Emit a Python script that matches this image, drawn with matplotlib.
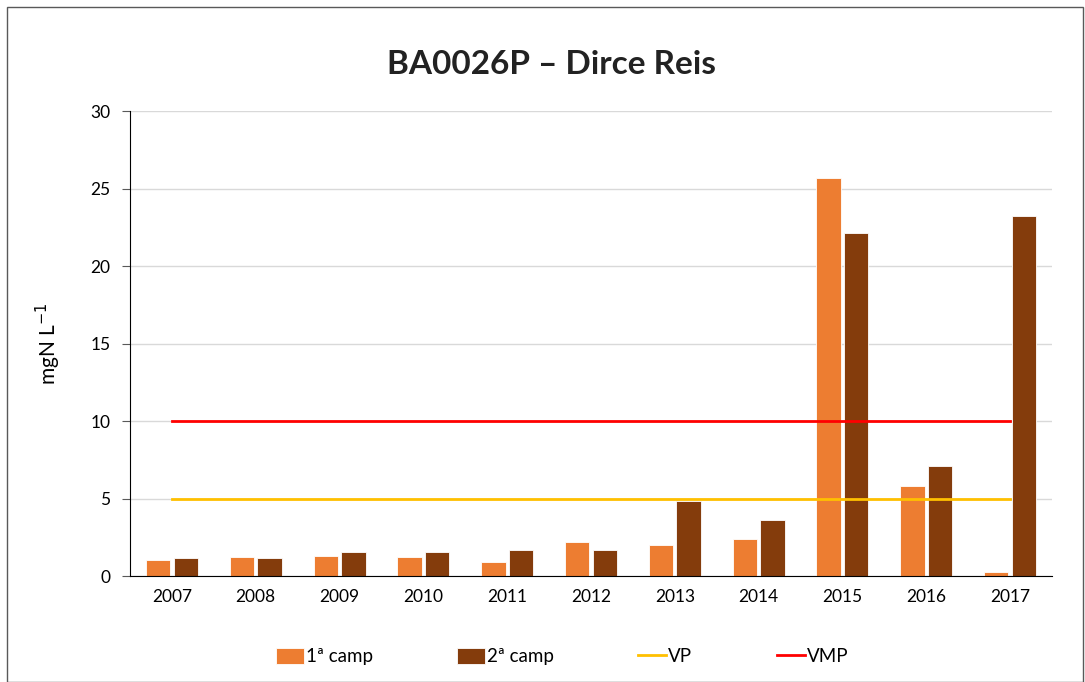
import numpy as np
import matplotlib
matplotlib.use('Agg')
import matplotlib.pyplot as plt
from matplotlib.patches import Rectangle

plt.rcParams['font.family'] = ['Lato', 'DejaVu Sans']

years = ['2007', '2008', '2009', '2010', '2011', '2012', '2013', '2014', '2015', '2016', '2017']
camp1 = [1.04, 1.21, 1.32, 1.23, 0.91, 2.21, 2.01, 2.36, 25.7, 5.82, 0.26]
camp2 = [1.17, 1.19, 1.56, 1.54, 1.69, 1.69, 4.85, 3.64, 22.15, 7.13, 23.2]
vp = [5] * len(years)
vmp = [10] * len(years)

orange = '#ED7D31'
brown = '#843C0C'

fig = plt.figure(figsize=(10.85, 6.82), dpi=100)
ax = fig.add_axes([0.1198, 0.1554, 0.8498, 0.6818])

x = np.arange(len(years))
w = 0.29
b1 = ax.bar(x - 0.165, camp1, w, color=orange, edgecolor='white', linewidth=0.6, label='1ª camp', zorder=2)
b2 = ax.bar(x + 0.165, camp2, w, color=brown, edgecolor='white', linewidth=0.6, label='2ª camp', zorder=2)
l1, = ax.plot(x, vp, color='#FFC000', linewidth=2, label='VP', zorder=3)
l2, = ax.plot(x, vmp, color='#FF0000', linewidth=2, label='VMP', zorder=3)

ax.set_xlim(-0.5, len(years) - 0.5)
ax.set_ylim(0, 30)
ax.set_yticks(range(0, 31, 5))
ax.set_xticks(x)
ax.set_xticklabels(years)
ax.yaxis.grid(True, color='#D9D9D9', linewidth=1)
ax.set_axisbelow(True)
ax.spines['top'].set_visible(False)
ax.spines['right'].set_visible(False)
ax.spines['left'].set_color('black')
ax.spines['bottom'].set_color('black')
ax.tick_params(axis='x', length=0, labelsize=12.5, pad=9)
ax.tick_params(axis='y', length=6, color='#595959', labelsize=12.5, pad=8)
ax.set_ylabel('mgN L$^{-1}$', fontsize=15, labelpad=20)

fig.text(0.508, 0.905, 'BA0026P \u2013 Dirce Reis', ha='center', va='center',
         fontsize=24, fontweight='bold', color='#222222')

fig.legend(handles=[b1, b2, l1, l2], loc='center', bbox_to_anchor=(0.518, 0.037), ncol=4,
           frameon=False, fontsize=13.5, handlelength=1.5, handleheight=0.9,
           handletextpad=0.1, columnspacing=4.5)

fig.patches.append(Rectangle((0.006, 0.0), 0.992, 0.99, transform=fig.transFigure,
                             fill=False, edgecolor='#595959', linewidth=1))

fig.savefig('out.png', dpi=100)
